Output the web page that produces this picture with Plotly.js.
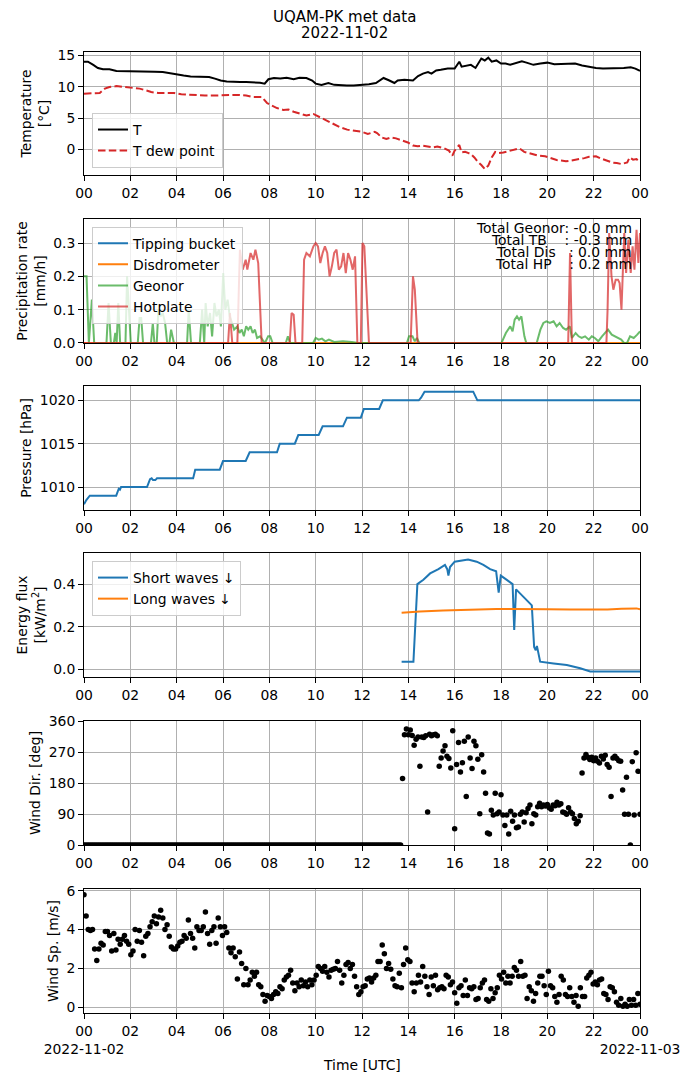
<!DOCTYPE html>
<html>
<head>
<meta charset="utf-8">
<script src="https://cdn.plot.ly/plotly-3.0.1.min.js"></script>
<style>
body { margin: 0; background: #fff; }
#chart { width: 690px; height: 1082px; }
</style>
</head>
<body>
<div id="chart"></div>
<script>
// --- data (hours since 2022-11-02 00:00 UTC) ---
var tempHours = [0, 0.17, 0.4, 0.6, 0.82, 1.1, 1.4, 1.7, 2.0, 2.35, 2.7, 3.05, 3.4, 3.75, 4.0, 4.3, 4.6, 4.9, 5.15, 5.4,
  5.65, 5.9, 6.16, 6.45, 6.74, 7.0, 7.3, 7.6, 7.8, 7.96, 8.2, 8.47, 8.75, 9.05, 9.3, 9.6, 9.85, 10.0, 10.25, 10.55,
  10.8, 11.07, 11.35, 11.64, 12.0, 12.3, 12.6, 12.93, 13.18, 13.4, 13.54, 13.83, 14.2, 14.42, 14.63, 14.85, 15.0, 15.2, 15.4, 15.7,
  16.0, 16.2, 16.3, 16.5, 16.7, 16.9, 17.15, 17.3, 17.45, 17.6, 17.8, 18.0, 18.2, 18.4, 18.6, 18.9, 19.1, 19.4, 19.7, 20.0,
  20.3, 20.6, 20.9, 21.2, 21.5, 21.8, 22.1, 22.4, 22.7, 23.0, 23.3, 23.6, 23.8, 24.0];
var temp = [14.0, 14.0, 13.5, 13.0, 12.8, 12.8, 12.5, 12.5, 12.45, 12.5, 12.45, 12.4, 12.35, 12.1, 11.9, 11.8, 11.65, 11.65, 11.55, 11.55,
  11.3, 11.0, 10.85, 10.75, 10.75, 10.75, 10.75, 10.65, 10.5, 11.2, 11.4, 11.3, 11.45, 11.2, 11.45, 11.4, 11.0, 10.5, 10.3, 10.6,
  10.3, 10.2, 10.2, 10.2, 10.3, 10.4, 10.6, 11.4, 11.0, 10.6, 11.0, 11.1, 11.0, 11.7, 12.1, 12.35, 12.1, 12.6, 12.7, 12.9,
  12.9, 14.0, 13.2, 13.3, 13.5, 13.0, 14.5, 14.2, 14.65, 14.0, 14.2, 13.7, 13.7, 13.5, 13.7, 14.05, 13.85, 13.5, 13.7, 13.85,
  13.6, 13.6, 13.6, 13.7, 13.4, 13.15, 13.0, 12.9, 12.9, 12.9, 13.0, 13.1, 12.9, 12.55];

var dewHours = [0, 0.4, 0.68, 0.9, 1.1, 1.4, 1.7, 2.05, 2.4, 2.7, 2.9, 3.2, 3.55, 3.9, 4.2, 4.57, 4.86, 5.22, 5.58, 5.95,
  6.3, 6.67, 7.0, 7.3, 7.68, 7.9, 8.1, 8.33, 8.6, 8.83, 9.05, 9.34, 9.6, 9.9, 10.2, 10.5, 10.8, 11.07, 11.36, 11.64,
  12.0, 12.25, 12.55, 12.65, 12.85, 13.05, 13.25, 13.47, 13.76, 13.98, 14.2, 14.4, 14.6, 14.85, 15.05, 15.25, 15.55, 15.75, 15.9, 16.0,
  16.2, 16.3, 16.45, 16.6, 16.7, 16.85, 17.0, 17.15, 17.3, 17.45, 17.6, 17.75, 17.9, 18.1, 18.4, 18.65, 18.8, 19.0, 19.3, 19.6,
  19.9, 20.2, 20.4, 20.6, 20.8, 21.0, 21.3, 21.6, 21.8, 22.1, 22.3, 22.6, 22.8, 23.0, 23.2, 23.45, 23.55, 23.7, 23.85, 24.0];
var dewPoint = [8.9, 8.9, 9.0, 9.7, 9.95, 10.1, 10.0, 9.9, 9.7, 9.4, 9.15, 9.0, 9.0, 9.0, 8.8, 8.7, 8.6, 8.6, 8.6, 8.65,
  8.7, 8.7, 8.6, 8.35, 8.35, 7.4, 7.0, 6.6, 6.3, 6.35, 6.0, 5.65, 5.4, 5.65, 5.1, 4.6, 4.05, 3.5, 3.15, 2.95,
  2.8, 2.45, 2.8, 2.6, 1.9, 1.65, 1.9, 1.75, 1.4, 1.1, 0.6, 0.5, 0.6, 0.45, 0.3, 0.45, 0.15, -0.2, -1.0, -0.2,
  0.7, -0.5, -0.4, -0.6, -0.75, -1.3, -2.0, -2.5, -3.15, -2.6, -1.3, -0.4, -0.6, -0.5, -0.2, 0.05, 0.15, -0.4, -0.75, -1.0,
  -1.1, -1.45, -1.7, -1.8, -1.9, -1.8, -1.65, -1.4, -1.2, -1.1, -1.45, -1.8, -2.1, -2.2, -2.35, -2.1, -1.3, -1.65, -1.55, -2.1];

var flatHours = [0, 24];
var tippingBucket = [0, 0];
var disdrometer = [0, 0];

var geonorHours = [0, 0.11, 0.21, 0.34, 0.44, 0.97, 1.06, 1.16, 1.29, 1.35, 1.41, 1.48, 1.56, 1.79, 1.86, 1.94, 2.02, 2.32, 2.4, 2.47,
  2.55, 2.89, 2.97, 3.04, 3.14, 3.21, 3.31, 3.4, 3.5, 3.59, 3.69, 3.76, 3.88, 4.45, 4.52, 4.62, 5.0, 5.1, 5.19, 5.25,
  5.34, 5.44, 5.53, 5.63, 5.72, 5.82, 5.91, 6.01, 6.1, 6.2, 6.29, 6.39, 6.48, 6.62, 6.71, 6.81, 6.9, 7.0, 7.09, 7.19,
  7.28, 7.38, 7.47, 7.6, 7.72, 7.81, 7.95, 8.04, 8.14, 8.71, 8.8, 8.9, 9.89, 10.0, 10.13, 10.27, 10.42, 10.57, 10.8, 11.18,
  11.56, 11.84, 13.94, 14.03, 14.18, 14.28, 14.37, 14.47, 18.02, 18.21, 18.4, 18.5, 18.59, 18.69, 18.78, 18.88, 19.01, 19.09, 19.54, 19.7,
  19.83, 19.96, 20.11, 20.27, 20.4, 20.53, 20.68, 20.81, 20.97, 21.06, 21.22, 21.35, 21.48, 21.63, 21.79, 21.92, 22.05, 22.2, 22.36, 22.49,
  22.62, 22.78, 22.93, 23.06, 23.19, 23.31, 23.44, 23.57, 23.73, 23.88, 24.0];
var geonor = [0.2, 0.2, 0.0, 0.13, 0.0, 0.0, 0.12, 0.0, 0.0, 0.03, 0.0, 0.12, 0.0, 0.0, 0.2, 0.08, 0.0, 0.0, 0.075, 0.075,
  0.0, 0.0, 0.06, 0.0, 0.0, 0.1, 0.08, 0.09, 0.06, 0.0, 0.0, 0.04, 0.0, 0.0, 0.1, 0.0, 0.0, 0.1, 0.0, 0.12,
  0.05, 0.09, 0.02, 0.12, 0.08, 0.1, 0.05, 0.21, 0.1, 0.13, 0.08, 0.06, 0.04, 0.05, 0.03, 0.04, 0.02, 0.05, 0.04, 0.05,
  0.03, 0.04, 0.015, 0.02, 0.01, 0.0, 0.02, 0.02, 0.0, 0.0, 0.02, 0.0, 0.0, 0.015, 0.01, 0.013, 0.005, 0.01, 0.003, 0.005,
  0.003, 0.0, 0.0, 0.02, 0.02, 0.005, 0.015, 0.0, 0.0, 0.03, 0.05, 0.035, 0.07, 0.08, 0.07, 0.08, 0.02, 0.0, 0.0, 0.04,
  0.06, 0.065, 0.06, 0.065, 0.05, 0.06, 0.045, 0.04, 0.05, 0.015, 0.03, 0.02, 0.015, 0.02, 0.01, 0.02, 0.015, 0.005, 0.02, 0.03,
  0.04, 0.025, 0.02, 0.015, 0.01, 0.0, 0.0, 0.02, 0.015, 0.025, 0.035];

var hotplateHours = [0, 6.22, 6.3, 6.4, 6.62, 6.73, 6.85, 6.98, 7.05, 7.19, 7.31, 7.4, 7.52, 7.67, 8.88, 8.96, 9.05, 9.13, 9.42, 9.5,
  9.6, 9.75, 9.9, 10.0, 10.1, 10.2, 10.3, 10.4, 10.5, 10.6, 10.7, 10.8, 10.9, 11.0, 11.1, 11.2, 11.3, 11.4, 11.5, 11.6,
  11.7, 11.8, 11.95, 12.02, 12.1, 12.2, 12.3, 14.1, 14.2, 14.28, 14.4, 20.9, 20.98, 21.06, 22.55, 22.6, 22.67, 22.77, 22.85, 22.95,
  23.05, 23.12, 23.2, 23.32, 23.4, 23.5, 23.6, 23.68, 23.76, 23.85, 23.93, 24.0];
var hotplate = [0, 0, 0.09, 0, 0, 0.28, 0.22, 0.25, 0.22, 0.27, 0.25, 0.28, 0.24, 0, 0, 0.09, 0.085, 0, 0, 0.25,
  0.27, 0.26, 0.29, 0.30, 0.29, 0.24, 0.27, 0.29, 0.27, 0.2, 0.23, 0.27, 0.28, 0.22, 0.23, 0.27, 0.21, 0.27, 0.25, 0.22,
  0.26, 0, 0, 0.3, 0.29, 0.15, 0, 0, 0.2, 0.16, 0, 0, 0.27, 0, 0, 0.1, 0.33, 0.2, 0.16, 0.19,
  0.19, 0.18, 0.1, 0.33, 0.21, 0.31, 0.21, 0.29, 0.22, 0.34, 0.24, 0.33];

var totalLabels = ['Total Geonor: -0.0 mm', 'Total TB    : -0.3 mm', 'Total Dis   : 0.0 mm', 'Total HP    : 0.2 mm'];

var pressureHours = [0, 0.1, 0.25, 1.39, 1.5, 1.55, 1.6, 2.72, 2.85, 2.92, 2.98, 3.08, 3.15, 4.71, 4.8, 5.86, 6.0, 6.98, 7.15, 8.33,
  8.45, 9.1, 9.25, 10.13, 10.3, 11.18, 11.35, 11.95, 12.08, 12.74, 12.9, 14.45, 14.55, 14.7, 16.8, 16.98, 24];
var pressure = [1008, 1008.5, 1009, 1009, 1009.8, 1009.7, 1010, 1010, 1010.9, 1011, 1010.8, 1010.8, 1011, 1011, 1012, 1012, 1013, 1013, 1014, 1014,
  1015, 1015, 1016, 1016, 1017, 1017, 1018, 1018, 1019, 1019, 1020, 1020, 1020.3, 1021, 1021, 1020, 1020];

var shortHours = [13.71, 14.22, 14.39, 14.65, 14.94, 15.3, 15.58, 15.68, 15.73, 15.8, 16.0, 16.3, 16.58, 16.95, 17.24, 17.53, 17.79, 17.9, 17.99, 18.25,
  18.5, 18.57, 18.65, 18.97, 19.33, 19.43, 19.5, 19.55, 19.69, 20.27, 20.84, 21.42, 21.85, 24.0];
var shortWaves = [0.036, 0.036, 0.40, 0.42, 0.45, 0.47, 0.49, 0.47, 0.44, 0.48, 0.505, 0.51, 0.515, 0.505, 0.49, 0.47, 0.46, 0.36, 0.44, 0.42,
  0.40, 0.185, 0.375, 0.34, 0.30, 0.105, 0.09, 0.11, 0.036, 0.028, 0.02, 0.005, -0.01, -0.01];
var longHours = [13.71, 14.5, 15.5, 16.3, 17.0, 17.8, 18.5, 19.3, 20.0, 21.0, 22.0, 22.6, 23.2, 23.6, 23.85, 24.0];
var longWaves = [0.266, 0.272, 0.276, 0.279, 0.280, 0.283, 0.283, 0.281, 0.282, 0.281, 0.280, 0.281, 0.284, 0.287, 0.286, 0.282];

// wind direction, one reading every 5 min over the day
var windDir = [
  0,0,0,0,0,0,0,0,0,0,0,0, 0,0,0,0,0,0,0,0,0,0,0,0, 0,0,0,0,0,0,0,0,0,0,0,0,
  0,0,0,0,0,0,0,0,0,0,0,0, 0,0,0,0,0,0,0,0,0,0,0,0, 0,0,0,0,0,0,0,0,0,0,0,0,
  0,0,0,0,0,0,0,0,0,0,0,0, 0,0,0,0,0,0,0,0,0,0,0,0, 0,0,0,0,0,0,0,0,0,0,0,0,
  0,0,0,0,0,0,0,0,0,0,0,0, 0,0,0,0,0,0,0,0,0,0,0,0, 0,0,0,0,0,0,0,0,0,0,0,0,
  0,0,0,0,0,0,0,0,0,0,0,0, 0,0,0,0,0,0,0,0,0,
  193, 320, 337, 320, 334, 318, 290, 307, 314, 229, 314, 312, 317, 96, 322, 317, 320, 322, 317, 229,
  253, 273, 288, 258, 251, 224, 332, 47, 234, 298, 212, 239, 301, 141, 314, 253, 222, 301, 288, 249,
  91, 262, 212, 150, 35, 32, 101, 87, 150, 91, 96, 146, 87, 57, 87, 32, 98, 69, 87, 50,
  52, 89, 96, 67, 94, 106, 116, 62, 91, 87, 111, 121, 111, 116, 113, 118, 108, 104, 116, 114,
  124, 116, 120, 96, 94, 89, 108, 96, 91, 77, 62, 69, 85, 209, 253, 263, 255, 248, 255, 245,
  253, 243, 238, 258, 250, 261, 234, 226, 141, 253, 258, 251, 245, 243, 160, 89, 197, 89, 0, 242,
  87, 268, 214, 89];

// wind speed, evenly sampled over the day
var windSpeed = [5.8, 4.7, 4.0, 3.95, 4.0, 3.0, 2.4, 3.0, 3.3, 3.2, 3.9, 3.9, 3.7, 2.9, 3.8, 2.95, 3.5, 3.25, 3.5, 3.7,
  3.4, 3.25, 2.7, 2.9, 4.0, 3.4, 3.95, 3.35, 2.65, 3.65, 3.8, 4.15, 4.4, 4.7, 4.3, 4.65, 5.0, 4.6, 4.0, 4.25,
  3.65, 3.1, 3.0, 3.0, 3.15, 3.35, 3.4, 3.7, 3.55, 4.5, 3.8, 3.55, 3.05, 4.15, 3.95, 3.95, 4.15, 4.9, 3.8, 3.25,
  3.95, 4.15, 3.3, 4.6, 4.15, 3.7, 4.15, 3.85, 3.05, 2.8, 3.05, 2.6, 1.45, 2.85, 2.25, 1.15, 2.0, 1.15, 1.4, 1.8,
  1.6, 1.8, 1.15, 1.05, 0.65, 0.3, 0.6, 0.55, 0.45, 0.65, 0.8, 0.7, 1.05, 0.95, 1.4, 1.55, 1.65, 1.9, 1.25, 0.85,
  1.25, 1.05, 1.4, 1.1, 1.3, 1.05, 1.4, 1.15, 1.4, 1.65, 2.1, 2.0, 1.85, 2.1, 1.8, 1.55, 1.9, 1.95, 2.0, 2.35,
  1.9, 1.25, 1.65, 2.2, 2.3, 2.0, 2.2, 1.6, 1.05, 0.65, 0.8, 1.05, 1.1, 1.45, 1.5, 1.3, 1.5, 1.65, 2.35, 2.35,
  3.2, 2.75, 2.0, 2.25, 1.95, 1.45, 1.1, 1.05, 1.75, 1.0, 2.2, 3.05, 2.45, 2.35, 1.25, 0.8, 1.25, 1.65, 1.3, 2.1,
  1.6, 1.05, 0.65, 1.55, 1.1, 1.65, 0.9, 1.0, 1.05, 0.95, 1.65, 1.55, 1.15, 1.3, 0.75, 0.2, 1.0, 1.1, 0.6, 1.4,
  0.6, 1.0, 0.95, 1.05, 0.4, 0.45, 1.0, 1.25, 1.4, 0.4, 0.3, 0.95, 0.45, 0.75, 1.0, 1.65, 1.45, 1.8, 1.25, 1.6,
  1.25, 1.6, 2.05, 1.9, 1.6, 2.35, 1.6, 1.65, 0.45, 1.05, 0.85, 0.3, 0.7, 1.25, 1.6, 1.6, 1.1, 0.65, 1.85, 1.1,
  1.0, 0.55, 0.25, 0.65, 1.6, 1.4, 0.65, 0.55, 1.0, 0.55, 0.25, 0.6, 0.05, 1.0, 0.55, 0.55, 1.5, 1.65, 1.8, 1.2,
  1.3, 1.15, 1.4, 1.45, 0.7, 0.65, 0.4, 1.05, 1.0, 0.8, 0.25, 0.1, 0.45, 0.05, 0.15, 0.05, 0.4, 0.1, 0.4, 0.1,
  0.7, 0.15];

var tickHours = [0, 2, 4, 6, 8, 10, 12, 14, 16, 18, 20, 22, 24];
var tickLabels = ['00', '02', '04', '06', '08', '10', '12', '14', '16', '18', '20', '22', '00'];
var startDate = '2022-11-02';
var endDate = '2022-11-03';

// --- helpers ---
var t0 = Date.UTC(2022, 10, 2);
function toTime(h) {
  return new Date(t0 + h * 3600000).toISOString().slice(0, 19).replace('T', ' ');
}
function times(hours) { return hours.map(toTime); }
function evenTimes(n) {
  var out = [];
  for (var i = 0; i < n; i++) out.push(toTime(i * 24 / (n - 1)));
  return out;
}

var FONT = 'DejaVu Sans, sans-serif';
var FS = 13.9;
var tickTimes = times(tickHours);

function xAxis(anchor, bottom) {
  var text = tickLabels.slice();
  if (bottom) {
    text[0] = text[0] + '<br>' + startDate;
    text[text.length - 1] = text[text.length - 1] + '<br>' + endDate;
  }
  return {
    type: 'date', anchor: anchor, domain: [0, 1],
    range: [toTime(0), toTime(24)],
    tickmode: 'array', tickvals: tickTimes, ticktext: text, tickangle: 0,
    showgrid: true, gridcolor: '#b0b0b0', gridwidth: 1,
    showline: true, mirror: true, linecolor: '#000', linewidth: 1,
    ticks: 'outside', ticklen: 5, tickwidth: 1, tickcolor: '#000',
    tickfont: { family: FONT, size: FS, color: '#000' },
    zeroline: false
  };
}
function yAxis(anchor, domain, range, opts, title) {
  var ax = {
    anchor: anchor, domain: domain, range: range,
    showgrid: true, gridcolor: '#b0b0b0', gridwidth: 1,
    showline: true, mirror: true, linecolor: '#000', linewidth: 1,
    ticks: 'outside', ticklen: 5, tickwidth: 1, tickcolor: '#000',
    tickfont: { family: FONT, size: FS, color: '#000' },
    zeroline: false,
    title: { text: title, font: { family: FONT, size: FS, color: '#000' }, standoff: 4 }
  };
  for (var k in opts) ax[k] = opts[k];
  return ax;
}
function legendBox(y, anchorY) {
  return {
    x: 0.0144, y: y, xanchor: 'left', yanchor: anchorY,
    bgcolor: 'rgba(255,255,255,0.8)', bordercolor: '#cccccc', borderwidth: 1,
    font: { family: FONT, size: FS, color: '#000' },
    tracegroupgap: 0
  };
}

var C0 = '#1f77b4', C1 = '#ff7f0e', C2 = '#2ca02c', C3 = '#d62728';

var traces = [
  { x: times(tempHours), y: temp, name: 'T', type: 'scatter', mode: 'lines',
    line: { color: '#000', width: 2 }, xaxis: 'x', yaxis: 'y', legend: 'legend' },
  { x: times(dewHours), y: dewPoint, name: 'T dew point', type: 'scatter', mode: 'lines',
    line: { color: C3, width: 2, dash: '7.5px,3.3px' }, xaxis: 'x', yaxis: 'y', legend: 'legend' },

  { x: times(flatHours), y: tippingBucket, name: 'Tipping bucket', type: 'scatter', mode: 'lines',
    line: { color: C0, width: 2 }, xaxis: 'x2', yaxis: 'y2', legend: 'legend2' },
  { x: times(flatHours), y: disdrometer, name: 'Disdrometer', type: 'scatter', mode: 'lines',
    line: { color: C1, width: 2 }, xaxis: 'x2', yaxis: 'y2', legend: 'legend2' },
  { x: times(geonorHours), y: geonor, name: 'Geonor', type: 'scatter', mode: 'lines', opacity: 0.7,
    line: { color: C2, width: 2 }, xaxis: 'x2', yaxis: 'y2', legend: 'legend2' },
  { x: times(hotplateHours), y: hotplate, name: 'Hotplate', type: 'scatter', mode: 'lines', opacity: 0.7,
    line: { color: C3, width: 2 }, xaxis: 'x2', yaxis: 'y2', legend: 'legend2' },

  { x: times(pressureHours), y: pressure, name: 'Pressure', type: 'scatter', mode: 'lines',
    line: { color: C0, width: 2 }, xaxis: 'x3', yaxis: 'y3', showlegend: false },

  { x: times(shortHours), y: shortWaves, name: 'Short waves \u2193', type: 'scatter', mode: 'lines',
    line: { color: C0, width: 2 }, xaxis: 'x4', yaxis: 'y4', legend: 'legend3' },
  { x: times(longHours), y: longWaves, name: 'Long waves \u2193', type: 'scatter', mode: 'lines',
    line: { color: C1, width: 2 }, xaxis: 'x4', yaxis: 'y4', legend: 'legend3' },

  { x: evenTimes(windDir.length), y: windDir, name: 'Wind dir', type: 'scatter', mode: 'markers',
    marker: { color: '#000', size: 5.5 }, xaxis: 'x5', yaxis: 'y5', showlegend: false },
  { x: evenTimes(windSpeed.length), y: windSpeed, name: 'Wind speed', type: 'scatter', mode: 'markers',
    marker: { color: '#000', size: 5.5 }, xaxis: 'x6', yaxis: 'y6', showlegend: false }
];

var annotations = [
  { text: 'UQAM-PK met data', xref: 'paper', yref: 'paper', x: 0.4694, y: 1.0364, xanchor: 'center', yanchor: 'middle',
    showarrow: false, font: { family: FONT, size: 15, color: '#000' } },
  { text: startDate, xref: 'paper', yref: 'paper', x: 0.4694, y: 1.0198, xanchor: 'center', yanchor: 'middle',
    showarrow: false, font: { family: FONT, size: 15, color: '#000' } },
  { text: 'Time [UTC]', xref: 'paper', yref: 'paper', x: 0.5, y: -0.0541, xanchor: 'center', yanchor: 'middle',
    showarrow: false, font: { family: FONT, size: FS, color: '#000' } }
];
var totalY = [0.8172, 0.8044, 0.7922, 0.7791];
totalLabels.forEach(function (s, i) {
  annotations.push({ text: s.replace(/ /g, '\u00a0'), xref: 'paper', yref: 'paper', x: 0.9892, y: totalY[i],
    xanchor: 'right', yanchor: 'middle', align: 'right', showarrow: false,
    font: { family: FONT, size: FS, color: '#000' } });
});

var layout = {
  width: 690, height: 1082,
  margin: { l: 84, r: 50, t: 52, b: 69, pad: 0 },
  paper_bgcolor: '#fff', plot_bgcolor: '#fff',
  font: { family: FONT, size: FS, color: '#000' },
  xaxis: xAxis('y', false),
  xaxis2: xAxis('y2', false),
  xaxis3: xAxis('y3', false),
  xaxis4: xAxis('y4', false),
  xaxis5: xAxis('y5', false),
  xaxis6: xAxis('y6', true),
  yaxis: yAxis('x', [0.8720, 1.0], [-4.1, 15.55], { tickvals: [0, 5, 10, 15] }, 'Temperature<br>[\u00b0C]'),
  yaxis2: yAxis('x2', [0.6972, 0.8262], [0, 0.372], { tickvals: [0, 0.1, 0.2, 0.3], tickformat: '.1f' }, 'Precipitation rate<br>[mm/h]'),
  yaxis3: yAxis('x3', [0.5234, 0.6524], [1007.35, 1021.65], { tickvals: [1010, 1015, 1020] }, 'Pressure [hPa]'),
  yaxis4: yAxis('x4', [0.3496, 0.4787], [-0.036, 0.546], { tickvals: [0, 0.2, 0.4], tickformat: '.1f' }, 'Energy flux<br>[kW/m<sup>2</sup>]'),
  yaxis5: yAxis('x5', [0.1748, 0.3038], [0, 360], { tickvals: [0, 90, 180, 270, 360] }, 'Wind Dir. [deg]'),
  yaxis6: yAxis('x6', [0, 0.1290], [-0.3, 6.09], { tickvals: [0, 2, 4, 6] }, 'Wind Sp. [m/s]'),
  legend: legendBox(0.8793, 'bottom'),
  legend2: legendBox(0.8182, 'top'),
  legend3: legendBox(0.4703, 'top'),
  annotations: annotations
};

Plotly.newPlot('chart', traces, layout, { displayModeBar: false, responsive: false });
</script>
</body>
</html>
